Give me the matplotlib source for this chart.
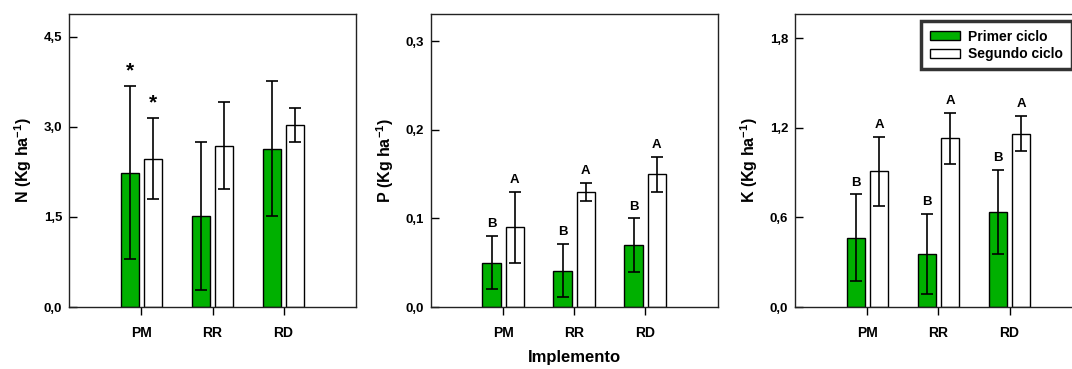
import numpy as np
import matplotlib
matplotlib.use("Agg")
import matplotlib.pyplot as plt

plt.rcParams['font.family'] = ['Liberation Sans', 'DejaVu Sans']
plt.rcParams['font.weight'] = 'bold'
plt.rcParams['mathtext.fontset'] = 'custom'
plt.rcParams['mathtext.rm'] = 'Liberation Sans:bold'
plt.rcParams['mathtext.bf'] = 'Liberation Sans:bold'
plt.rcParams['mathtext.default'] = 'bf'

implementos = ['PM', 'RR', 'RD']

# N
n_primer = [2.24, 1.52, 2.64]
n_primer_err = [1.44, 1.23, 1.13]
n_segundo = [2.47, 2.69, 3.03]
n_segundo_err = [0.67, 0.73, 0.28]

# P
p_primer = [0.05, 0.041, 0.07]
p_primer_err = [0.03, 0.03, 0.03]
p_segundo = [0.09, 0.13, 0.15]
p_segundo_err = [0.04, 0.01, 0.02]

# K
k_primer = [0.464, 0.355, 0.636]
k_primer_err = [0.29, 0.27, 0.28]
k_segundo = [0.91, 1.13, 1.162]
k_segundo_err = [0.23, 0.17, 0.12]

p_letras_primer = ['B', 'B', 'B']
p_letras_segundo = ['A', 'A', 'A']
k_letras_primer = ['B', 'B', 'B']
k_letras_segundo = ['A', 'A', 'A']
n_marcas_primer = ['*', '', '']
n_marcas_segundo = ['*', '', '']

verde = '#00b000'
fig = plt.figure(figsize=(10.72, 3.69), dpi=100)

lefts = [0.0644, 0.4018, 0.7416]
w, b, h = 0.2677, 0.168, 0.794
panels = [
    (n_primer, n_primer_err, n_segundo, n_segundo_err, 4.88, [0, 1.5, 3.0, 4.5], 'N (Kg ha$^{-1}$)', n_marcas_primer, n_marcas_segundo),
    (p_primer, p_primer_err, p_segundo, p_segundo_err, 0.331, [0, 0.1, 0.2, 0.3], 'P (Kg ha$^{-1}$)', p_letras_primer, p_letras_segundo),
    (k_primer, k_primer_err, k_segundo, k_segundo_err, 1.963, [0, 0.6, 1.2, 1.8], 'K (Kg ha$^{-1}$)', k_letras_primer, k_letras_segundo),
]

x = np.arange(len(implementos))
bw = 0.26
off = 0.163
axes = []
for i, (g, ge, s, se, ymax, yt, ylab, lg, ls) in enumerate(panels):
    ax = fig.add_axes([lefts[i], b, w, h])
    axes.append(ax)
    ax.bar(x - off, g, bw, color=verde, edgecolor='black', linewidth=1,
           yerr=ge, capsize=4, error_kw=dict(elinewidth=1.2, capthick=1.2, ecolor='black'),
           label='Primer ciclo')
    ax.bar(x + off, s, bw, color='white', edgecolor='black', linewidth=1,
           yerr=se, capsize=4, error_kw=dict(elinewidth=1.2, capthick=1.2, ecolor='black'),
           label='Segundo ciclo')
    pad = ymax * 0.02
    fs = 15 if i == 0 else 9.5
    for j in range(len(x)):
        ax.text(x[j] - off, g[j] + ge[j] + pad, lg[j], ha='center', va='bottom', fontsize=fs, fontweight='bold')
        ax.text(x[j] + off, s[j] + se[j] + pad, ls[j], ha='center', va='bottom', fontsize=fs, fontweight='bold')
    ax.set_xlim(-1.02, 3.02)
    ax.set_ylim(0, ymax)
    ax.set_yticks(yt)
    ax.set_yticklabels([('%.1f' % v).replace('.', ',') for v in yt])
    ax.set_xticks(x)
    ax.set_xticklabels(implementos)
    ax.tick_params(axis='y', direction='in', length=6, width=1, labelsize=9.5, pad=5)
    ax.tick_params(axis='x', direction='out', length=6, width=1, labelsize=10, pad=8)
    for lab in ax.get_xticklabels() + ax.get_yticklabels():
        lab.set_fontweight('bold')
    ax.set_ylabel(ylab, fontsize=11.5, fontweight='bold', labelpad=7)
    for sp in ax.spines.values():
        sp.set_linewidth(1)
        sp.set_color('#222222')

axes[1].set_xlabel('Implemento', fontsize=12, fontweight='bold', labelpad=7)

leg = axes[2].legend(loc='upper left', bbox_to_anchor=(0.44, 0.975), fontsize=10,
                     frameon=True, fancybox=False, handlelength=2.2, handleheight=0.65,
                     borderpad=0.6, labelspacing=0.25, handletextpad=0.6, borderaxespad=0)
leg.get_frame().set_edgecolor('black')
leg.get_frame().set_linewidth(2.5)
for t in leg.get_texts():
    t.set_fontweight('bold')

fig.savefig('out.png', dpi=100)
